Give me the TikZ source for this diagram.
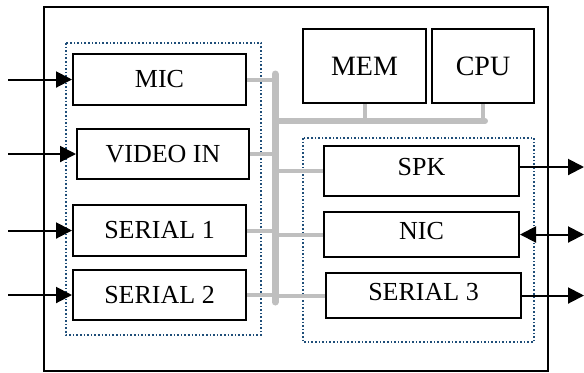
\documentclass[tikz,border=0pt]{standalone}
\usepackage{fontspec}
\setmainfont{Liberation Serif}
\usepackage{xcolor}
\usetikzlibrary{arrows.meta,positioning,calc}
\definecolor{busgray}{RGB}{191,191,191}
\definecolor{grpblue}{RGB}{31,78,121}

\begin{document}
\begin{tikzpicture}[x = 0.5pt, y = -0.5pt,
  unit/.style = {draw, line width = 1pt, inner sep = 0pt, font = {\fontsize{13}{15}\selectfont}},
  outunit/.style = {unit, text depth = 4pt},
  tip/.tip = {Triangle[length = 8pt, width = 8pt]},
  sig/.style = {line width = 1pt, -tip},
  bus/.style = {busgray, line width = 3.5pt, line cap = round},
  stub/.style = {busgray, line width = 2pt},
  group/.style = {grpblue, densely dotted, line width = 0.8pt}]
\useasboundingbox (0,0) rectangle (584,372);
\draw[line width = 0.8pt] (44,7) rectangle (548,371);
\draw[group] (66,43) rectangle (261,335);
\draw[group] (303,138) rectangle (534,342);
% input side
\node[unit, minimum width = 86.5pt, minimum height = 25.5pt] (mic) at (159.5,79.5) {MIC};
\node[unit, minimum width = 86pt, minimum height = 25pt] (video) at (163,154) {VIDEO IN};
\node[unit, minimum width = 86.5pt, minimum height = 25.5pt] (ser1) at (159.5,230.5) {SERIAL 1};
\node[unit, minimum width = 86.5pt, minimum height = 25pt] (ser2) at (159.5,295) {SERIAL 2};
% core
\node[unit, minimum width = 61.5pt, minimum height = 37pt, font = {\fontsize{14}{16}\selectfont}] (mem) at (364.5,66) {MEM};
\node[unit, minimum width = 51pt, minimum height = 37pt, font = {\fontsize{14}{16}\selectfont}] (cpu) at (483,66) {CPU};
% output side
\node[outunit, minimum width = 97.5pt, minimum height = 25pt] (spk) at (421.5,171) {SPK};
\node[outunit, minimum width = 97.5pt, minimum height = 22.5pt] (nic) at (421.5,234.5) {NIC};
\node[outunit, minimum width = 97.5pt, minimum height = 22.5pt] (ser3) at (423.5,295.5) {SERIAL 3};
% bus
\coordinate (bustop) at (275,74);
\coordinate (busbot) at (275,302);
\coordinate (busend) at (485,121);
\foreach \n in {mic,video,ser1,ser2}
  \draw[stub] (\n.east) -- (\n.east -| bustop);
\foreach \n in {spk,nic,ser3}
  \draw[stub] (\n.west) -- (\n.west -| bustop);
\draw[stub] (mem.south) -- (mem.south |- busend);
\draw[stub] (cpu.south) -- (cpu.south |- busend);
\draw[bus] (bustop) -- (busbot);
\draw[bus, line width = 3pt] (bustop |- busend) -- (busend);
% signals in and out
\coordinate (inend) at (8,0);
\coordinate (outend) at (584,0);
\foreach \n in {mic,video,ser1,ser2}
  \draw[sig] (inend |- \n.west) -- (\n.west);
\draw[sig] ([yshift = 2pt]spk.east) -- ([yshift = 2pt]outend |- spk.east);
\draw[sig, tip-tip] (nic.east) -- (outend |- nic.east);
\draw[sig] (ser3.east) -- (outend |- ser3.east);
\end{tikzpicture}
\end{document}
